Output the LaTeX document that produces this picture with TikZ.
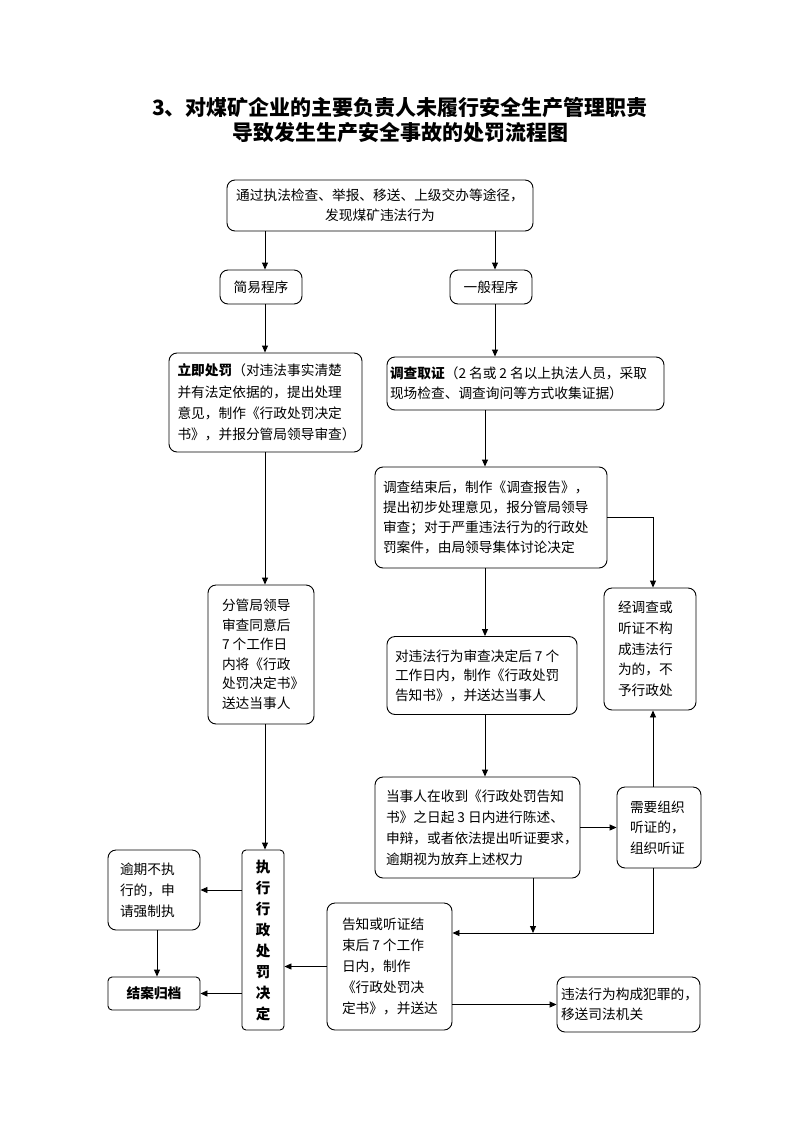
\documentclass[tikz,border=0pt]{standalone}
\usepackage{fontspec}
\setmainfont{Noto Sans CJK SC}
\usetikzlibrary{arrows.meta}
\newcommand{\dsp}{\hspace{3pt}}
\begin{document}
\begin{tikzpicture}[x=1pt,y=-1pt,
  box/.style={draw, line width=0.9pt, rounded corners=8pt, inner ysep=0pt, align=left,
    font=\fontsize{13.7}{20.5}\selectfont},
  sbox/.style={box, rounded corners=4pt},
  arr/.style={line width=0.9pt, -{Triangle[length=7pt,width=6pt]}},
  ln/.style={line width=0.9pt}]
\useasboundingbox (0,0) rectangle (800,1132);
\fill[white] (0,0) rectangle (800,1132);

% title
\node[font=\fontsize{21}{25}\selectfont\bfseries, align=center] (title) at (400,120)
  {3、对煤矿企业的主要负责人未履行安全生产管理职责\\导致发生生产安全事故的处罚流程图};

% column coordinates
\coordinate (xL) at (265,0);
\coordinate (xR) at (495,0);
\coordinate (xM) at (485,0);
\coordinate (xRR) at (653,0);
\coordinate (xB) at (533,0);
\coordinate (xO) at (157,0);
\coordinate (yJ) at (0,933);

% boxes
\node[box, align=center, text width=300pt, inner xsep=3pt, minimum height=51pt] (top) at (380,205.5)
  {通过执法检查、举报、移送、上级交办等途径，\\发现煤矿违法行为};
\node[box, align=center, text width=78pt, inner xsep=2pt, minimum height=34pt] (simple) at (261,287) {简易程序};
\node[box, align=center, text width=78pt, inner xsep=2pt, minimum height=34pt] (general) at (491,287) {一般程序};

\node[box, text width=176pt, inner xsep=8.5pt, minimum height=99pt,
  font=\fontsize{13.7}{21.3}\selectfont] (imm) at (265.5,402.5)
  {\textbf{立即处罚}（对违法事实清楚\\并有法定依据的，提出处理\\意见，制作《行政处罚决定\\书》，并报分管局领导审查）};

\node[box, text width=271pt, inner xsep=3pt, minimum height=53pt] (invest) at (525.5,383.5)
  {\textbf{调查取证}（2\dsp 名或\dsp 2\dsp 名以上执法人员，采取\\现场检查、调查询问等方式收集证据）};

\node[box, text width=216pt, inner xsep=8pt, minimum height=101pt,
  font=\fontsize{13.7}{20}\selectfont] (report) at (491,517.5)
  {调查结束后，制作《调查报告》，\\提出初步处理意见，报分管局领导\\审查；对于严重违法行为的行政处\\罚案件，由局领导集体讨论决定};

\node[box, text width=64pt, inner xsep=14pt, minimum height=122pt,
  font=\fontsize{13.7}{20.8}\selectfont] (notv) at (650,649)
  {经调查或\\听证不构\\成违法行\\为的，不\\予行政处};

\node[box, text width=174pt, inner xsep=8pt, minimum height=78pt,
  font=\fontsize{13.7}{19.5}\selectfont] (notice) at (482,675.5)
  {对违法行为审查决定后\dsp 7\dsp 个\\工作日内，制作《行政处罚\\告知书》，并送达当事人};

\node[box, text width=78pt, inner xsep=14pt, minimum height=139pt,
  font=\fontsize{13.7}{19.5}\selectfont] (approve) at (261,654.5)
  {分管局领导\\审查同意后\\7\dsp 个工作日\\内将《行政\\处罚决定书》\\送达当事人};

\node[box, text width=183pt, inner xsep=11pt, minimum height=101pt,
  font=\fontsize{13.7}{21}\selectfont] (party) at (477.5,827.5)
  {当事人在收到《行政处罚告知\\书》之日起\dsp 3\dsp 日内进行陈述、\\申辩，或者依法提出听证要求，\\逾期视为放弃上述权力};

\node[box, text width=58pt, inner xsep=13pt, minimum height=81pt,
  font=\fontsize{13.7}{20.5}\selectfont] (hear) at (659,827.5)
  {需要组织\\听证的，\\组织听证};

\node[sbox, align=center, text width=38pt, inner xsep=2pt, minimum height=180pt,
  font=\fontsize{14.5}{21}\selectfont\bfseries] (exec) at (263,940)
  {执\\行\\行\\政\\处\\罚\\决\\定};

\node[box, text width=68pt, inner xsep=12pt, minimum height=80pt,
  font=\fontsize{13.7}{21}\selectfont] (overdue) at (154,890)
  {逾期不执\\行的，申\\请强制执};

\node[sbox, align=center, text width=88pt, inner xsep=2pt, minimum height=33pt,
  font=\fontsize{13.7}{20}\selectfont\bfseries] (close) at (154,993.5) {结案归档};

\node[box, text width=95pt, inner xsep=15pt, minimum height=127pt,
  font=\fontsize{13.7}{21}\selectfont] (decide) at (389.5,966.5)
  {告知或听证结\\束后\dsp 7\dsp 个工作\\日内，制作\\《行政处罚决\\定书》，并送达};

\node[box, text width=135pt, inner xsep=4pt, minimum height=55pt,
  font=\fontsize{13.7}{20}\selectfont] (crime) at (628.5,1004.5)
  {违法行为构成犯罪的，\\移送司法机关};

% connectors
\draw[arr] (top.south -| xL) -- (simple.north -| xL);
\draw[arr] (top.south -| xR) -- (general.north -| xR);
\draw[arr] (simple.south -| xL) -- (imm.north -| xL);
\draw[arr] (general.south -| xR) -- (invest.north -| xR);
\draw[arr] (invest.south -| xM) -- (report.north -| xM);
\draw[arr] (report.east) -| (notv.north -| xRR);
\draw[arr] (report.south -| xM) -- (notice.north -| xM);
\draw[arr] (notice.south -| xM) -- (party.north -| xM);
\draw[arr] (party.east) -- (hear.west);
\draw[arr] (hear.north -| xRR) -- (notv.south -| xRR);
\draw[arr] (hear.south -| xRR) |- (decide.east |- yJ);
\draw[arr] (party.south -| xB) -- (xB |- yJ);
\draw[arr] (decide.west) -- (decide.west -| exec.east);
\draw[arr] (imm.south -| xL) -- (approve.north -| xL);
\draw[arr] (approve.south -| xL) -- (exec.north -| xL);
\draw[arr] (exec.west |- overdue.east) -- (overdue.east);
\draw[arr] (exec.west |- close.east) -- (close.east);
\draw[arr] (overdue.south -| xO) -- (close.north -| xO);
\draw[arr] (decide.east |- crime.west) -- (crime.west);
\end{tikzpicture}
\end{document}
